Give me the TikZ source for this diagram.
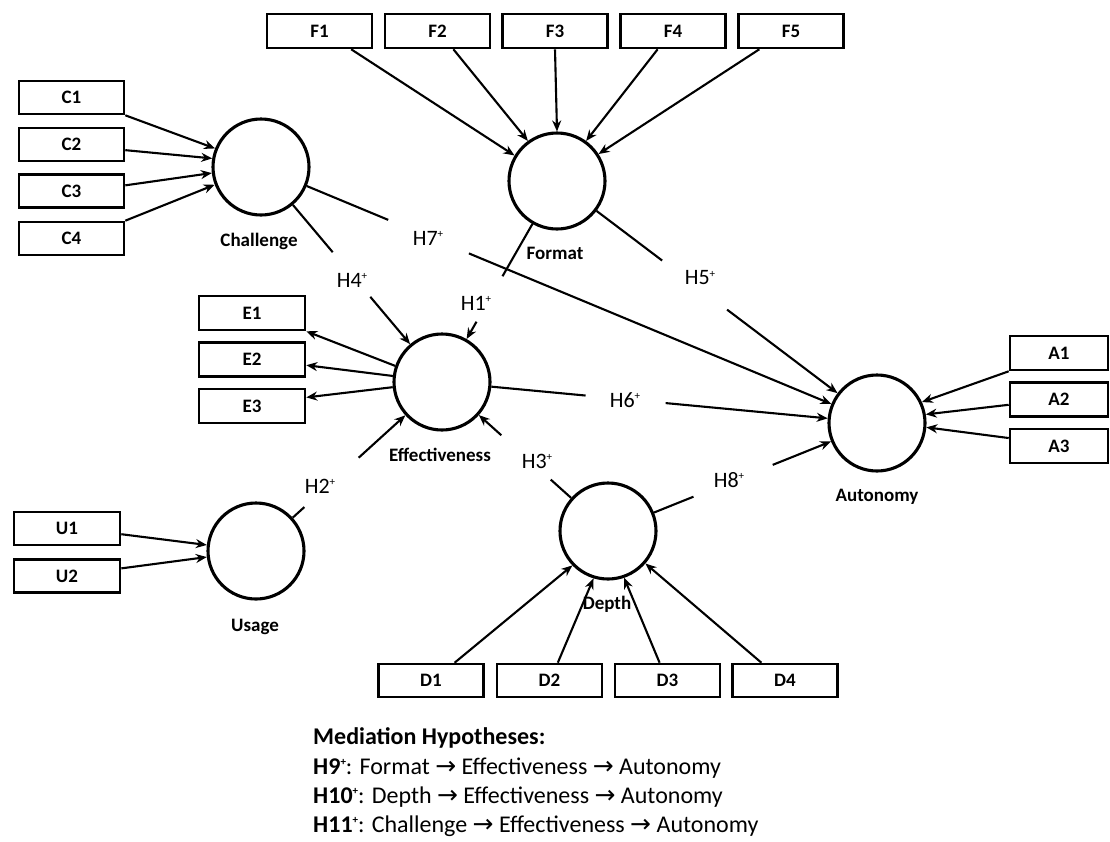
\documentclass[tikz,border=0pt]{standalone}
\usepackage{fontspec}
\setmainfont{Carlito}
\newfontfamily\arrowfont{DejaVu Sans}
\usetikzlibrary{arrows.meta,calc}
\newcommand\hplus{\raisebox{0.36em}{\fontsize{11}{11}\selectfont +}}
\newcommand\medarrow{{\arrowfont\fontsize{25}{28}\selectfont →}}
\begin{document}
\begin{tikzpicture}[x=1pt,y=-1pt,
  ind/.style={draw, line width=2.6pt, minimum height=34pt, inner sep=0pt,
    font=\fontsize{19}{22}\selectfont\bfseries},
  lat/.style={draw, circle, line width=3.1pt, minimum size=96pt, inner sep=0pt},
  latlab/.style={font=\fontsize{19}{22}\selectfont\bfseries},
  hyp/.style={font=\fontsize{22}{26}\selectfont, inner sep=0pt},
  gap/.style={circle, inner sep=0pt, minimum size=#1},
  con/.style={line width=2.1pt},
  arr/.style={con, -{Stealth[length=11pt,width=9pt]}},
  medl/.style={anchor=base west, inner sep=0pt, font=\fontsize{24}{28}\selectfont},
]
\useasboundingbox (0,0) rectangle (1110,841);

% latent variables
\node[lat] (chal) at (261,167) {};
\node[lat] (fmt)  at (557,181) {};
\node[lat] (eff)  at (442,382) {};
\node[lat] (use)  at (256,551) {};
\node[lat] (dep)  at (608,531) {};
\node[lat] (aut)  at (877,423) {};

\node[latlab] (lchal) at (259,241) {Challenge};
\node[latlab] (lfmt)  at (555,253) {Format};
\node[latlab] (leff)  at (440,455) {Effectiveness};
\node[latlab] (luse)  at (255,627) {Usage};
\node[latlab] (ldep)  at (607,604) {Depth};
\node[latlab] (laut)  at (877,497) {Autonomy};

% indicators
\node[ind, minimum width=105pt, minimum height=33pt] (C1) at (71.5,97.5) {C1};
\node[ind, minimum width=105pt, minimum height=33pt] (C2) at (71.5,144.5) {C2};
\node[ind, minimum width=105pt, minimum height=33pt] (C3) at (71.5,191) {C3};
\node[ind, minimum width=105pt, minimum height=33pt] (C4) at (71.5,238.5) {C4};

\node[ind, minimum width=105pt] (F1) at (319.5,31) {F1};
\node[ind, minimum width=105pt] (F2) at (437.5,31) {F2};
\node[ind, minimum width=105pt] (F3) at (555,31) {F3};
\node[ind, minimum width=105pt] (F4) at (673,31) {F4};
\node[ind, minimum width=105pt] (F5) at (791,31) {F5};

\node[ind, minimum width=106pt] (E1) at (252,313) {E1};
\node[ind, minimum width=106pt] (E2) at (252,359.5) {E2};
\node[ind, minimum width=106pt] (E3) at (252,406) {E3};

\node[ind, minimum width=98pt] (A1) at (1059,353) {A1};
\node[ind, minimum width=98pt] (A2) at (1059,399.5) {A2};
\node[ind, minimum width=98pt] (A3) at (1059,446) {A3};

\node[ind, minimum width=106pt, minimum height=33pt] (U1) at (67,528.5) {U1};
\node[ind, minimum width=106pt, minimum height=33pt] (U2) at (67,576) {U2};

\node[ind, minimum width=105pt, minimum height=33pt] (D1) at (431,680.5) {D1};
\node[ind, minimum width=105pt, minimum height=33pt] (D2) at (549.5,680.5) {D2};
\node[ind, minimum width=105pt, minimum height=33pt] (D3) at (667.5,680.5) {D3};
\node[ind, minimum width=105pt, minimum height=33pt] (D4) at (785,680.5) {D4};

% measurement arrows
\draw[arr] (C1.south east) -- (chal.158);
\draw[arr] (C2.-6) -- (chal.170);
\draw[arr] (C3.6.5) -- (chal.187);
\draw[arr] (C4.north east) -- (chal.201);

\draw[arr] (F1.-30) -- (fmt.149);
\draw[arr] (F2.-49.5) -- (fmt.126);
\draw[arr] (F3.south) -- (fmt.90);
\draw[arr] (F4.-130.5) -- (fmt.54);
\draw[arr] (F5.-150) -- (fmt.33);

\draw[arr] (eff.161) -- (E1.south east);
\draw[arr] (eff.173) -- (E2.-6);
\draw[arr] (eff.186) -- (E3.9.6);

\draw[arr] (A1.south west) -- (aut.25);
\draw[arr] (A2.186) -- (aut.10);
\draw[arr] (A3.171) -- (aut.-5);

\draw[arr] (U1.-6) -- (use.173);
\draw[arr] (U2.8.5) -- (use.187);

\draw[arr] (D1.37) -- (dep.224);
\draw[arr] (D2.65.6) -- (dep.253);
\draw[arr] (D3.114) -- (dep.289);
\draw[arr] (D4.143) -- (dep.319);

% structural paths with gaps
\node[gap=58pt] (g4) at ($(chal)!0.5!(eff)$) {};
\node[gap=87pt] (g7) at ($(chal)!0.272!(aut)$) {};
\node[gap=52pt] (g1) at ($(fmt)!0.587!(eff)$) {};
\node[gap=81pt] (g5) at ($(fmt)!0.43!(aut)$) {};
\node[gap=80pt] (g6) at ($(eff)!0.422!(aut)$) {};
\node[gap=73pt] (g2) at ($(use)!0.406!(eff)$) {};
\node[gap=66pt] (g3) at ($(dep)!0.494!(eff)$) {};
\node[gap=85pt] (g8) at ($(dep)!0.465!(aut)$) {};

\draw[con] (chal) -- (g4); \draw[arr] (g4) -- (eff);
\draw[con] (chal) -- (g7); \draw[arr] (g7) -- (aut);
\draw[con] (fmt) -- (g1);  \draw[arr] (g1) -- (eff);
\draw[con] (fmt) -- (g5);  \draw[arr] (g5) -- (aut);
\draw[con] (eff) -- (g6);  \draw[arr] (g6) -- (aut);
\draw[con] (use) -- (g2);  \draw[arr] (g2) -- (eff);
\draw[con] (dep) -- (g3);  \draw[arr] (g3) -- (eff);
\draw[con] (dep) -- (g8);  \draw[arr] (g8) -- (aut);

\node[hyp] (h4) at (352,280) {H4\hplus};
\node[hyp] (h7) at (428,238) {H7\hplus};
\node[hyp] (h1) at (476,303) {H1\hplus};
\node[hyp] (h5) at (700,278) {H5\hplus};
\node[hyp] (h6) at (625,400) {H6\hplus};
\node[hyp] (h2) at (320,486) {H2\hplus};
\node[hyp] (h3) at (537,461) {H3\hplus};
\node[hyp] (h8) at (729,480) {H8\hplus};

% mediation hypotheses
\node[medl] (m0) at (313,744) {\textbf{Mediation Hypotheses:}};
\node[medl] (m1) at (313,774) {\textbf{H9\hplus}: Format \medarrow{} Effectiveness \medarrow{} Autonomy};
\node[medl] (m2) at (313,803) {\textbf{H10\hplus}: Depth \medarrow{} Effectiveness \medarrow{} Autonomy};
\node[medl] (m3) at (313,832) {\textbf{H11\hplus}: Challenge \medarrow{} Effectiveness \medarrow{} Autonomy};
\end{tikzpicture}
\end{document}
